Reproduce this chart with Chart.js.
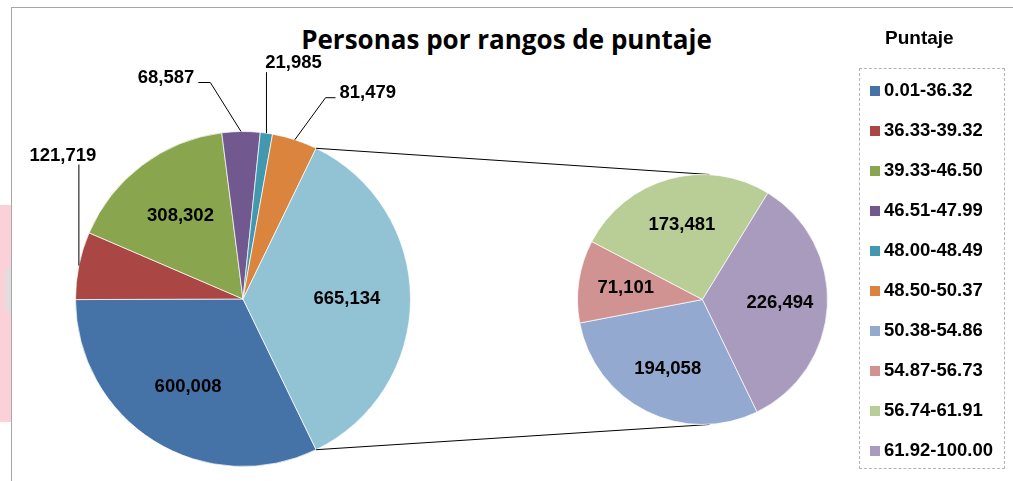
<!DOCTYPE html>
<html>
<head>
<meta charset="utf-8">
<script src="https://cdn.jsdelivr.net/npm/chart.js@4.4.1/dist/chart.umd.min.js"></script>
<style>
  body { margin: 0; background: #fff; width: 1013px; height: 481px; overflow: hidden; position: relative; font-family: "Liberation Sans", Arial, sans-serif; }
  #frame { position: absolute; left: 11px; top: 7px; width: 1100px; height: 600px; border-top: 1px solid #a6a6a6; border-left: 1px solid #a6a6a6; }
  #wm { position: absolute; left: 0; top: 205px; width: 11px; height: 217px; background: #fcd0d8; }
  #wm div { position: absolute; left: 5px; top: 62px; width: 6px; height: 46px; background: #e4dcde; border-radius: 6px 0 0 6px; }
  canvas { position: absolute; left: 0; top: 0; }
  #title { position: absolute; left: 0; top: 22px; width: 1013px; text-align: center; font: bold 26px "Open Sans", sans-serif; color: #000; line-height: 34px; }
  #legendTitle { position: absolute; left: 885px; top: 28px; font: bold 19px "Liberation Sans", Arial, sans-serif; line-height: 20px; }
  #legend { position: absolute; left: 859px; top: 68px; width: 146px; height: 401px; border: 1px dashed #b4b4b4; box-sizing: border-box; }
  .row { position: absolute; left: 10px; height: 20px; line-height: 20px; font: bold 18.5px "Liberation Sans", Arial, sans-serif; white-space: nowrap; }
  .row span { display: inline-block; width: 10px; height: 10px; margin-right: 4px; vertical-align: 0px; }
</style>
</head>
<body>
<div id="wm"><div></div></div>
<div id="frame"></div>
<div id="title">Personas por rangos de puntaje</div>
<canvas id="mainPie" width="1013" height="481"></canvas>
<canvas id="subPie" width="1013" height="481"></canvas>
<div id="legendTitle">Puntaje</div>
<div id="legend"></div>
<script>
// main pie: six score ranges plus the grouped slice that is broken out on the right
const mainLabels = ['0.01-36.32', '36.33-39.32', '39.33-46.50', '46.51-47.99', '48.00-48.49', '48.50-50.37', 'Otros'];
const mainValues = [600008, 121719, 308302, 68587, 21985, 81479, 665134];
// secondary pie
const subLabels = ['50.38-54.86', '54.87-56.73', '56.74-61.91', '61.92-100.00'];
const subValues = [194058, 71101, 173481, 226494];

const mainColors = ['#4572A7', '#AA4643', '#89A54E', '#71588F', '#4198AF', '#DB843D', '#92C3D5'];
const subColors = ['#93A9CF', '#D19392', '#B9CD96', '#A99BBD'];

const labelFont = 'bold 18.5px "Liberation Sans", Arial, sans-serif';

// label offsets (from the slice edge) for the thin slices that get a leader line
const callouts = { 1: [-16, -110], 3: [-75, -54], 4: [27, -70], 5: [73, -47] };

// the grouped slice is centred on 3 o'clock, as in a pie-of-pie
const mainTotal = mainValues.reduce((a, b) => a + b, 0);
const otherDeg = mainValues[mainValues.length - 1] / mainTotal * 360;
const startRotation = 90 + otherDeg / 2;

function fmt(v) { return v.toLocaleString('en-US'); }

const sliceLabels = {
  id: 'sliceLabels',
  afterDatasetsDraw(chart, args, opts) {
    const ctx = chart.ctx;
    const meta = chart.getDatasetMeta(0);
    const values = chart.data.datasets[0].data;
    ctx.save();
    ctx.font = labelFont;
    ctx.fillStyle = '#000';
    ctx.strokeStyle = '#000';
    ctx.lineWidth = 1;
    ctx.textAlign = 'center';
    ctx.textBaseline = 'middle';
    meta.data.forEach((arc, i) => {
      const p = arc.getProps(['x', 'y', 'startAngle', 'endAngle', 'outerRadius'], true);
      const mid = (p.startAngle + p.endAngle) / 2;
      const text = fmt(values[i]);
      const shift = (opts.callouts || {})[i];
      if (shift) {
        const ex = p.x + p.outerRadius * Math.cos(mid);
        const ey = p.y + p.outerRadius * Math.sin(mid);
        const lx = ex + shift[0], ly = ey + shift[1];
        const w = ctx.measureText(text).width, h = 14;
        const left = lx - w / 2, right = lx + w / 2;
        ctx.beginPath();
        ctx.moveTo(ex, ey);
        if (ex > right + 2) {
          ctx.lineTo(right + 16, ly + 5);
          ctx.lineTo(right + 4, ly + 5);
        } else if (ex < left - 2) {
          ctx.lineTo(left - 14, ly + 5);
          ctx.lineTo(left - 4, ly + 5);
        } else {
          ctx.lineTo(ex, ly + h / 2 + 2);
        }
        ctx.stroke();
        ctx.fillText(text, lx, ly);
      } else {
        const rr = p.outerRadius * 0.62;
        ctx.fillText(text, p.x + rr * Math.cos(mid), p.y + rr * Math.sin(mid));
      }
    });
    ctx.restore();
  }
};

const mainChart = new Chart(document.getElementById('mainPie'), {
  type: 'pie',
  data: {
    labels: mainLabels,
    datasets: [{ data: mainValues, backgroundColor: mainColors, borderColor: 'rgba(255,255,255,0.7)', borderWidth: 1 }]
  },
  options: {
    responsive: false,
    animation: false,
    rotation: startRotation,
    layout: { padding: { left: 75, right: 602, top: 131, bottom: 14 } },
    plugins: { legend: { display: false }, tooltip: { enabled: false }, sliceLabels: { callouts: callouts } }
  },
  plugins: [sliceLabels]
});

// lines joining the grouped slice to the secondary pie
const connectors = {
  id: 'connectors',
  beforeDatasetsDraw(chart) {
    const arcs = mainChart.getDatasetMeta(0).data;
    const other = arcs[arcs.length - 1].getProps(['x', 'y', 'startAngle', 'endAngle', 'outerRadius'], true);
    const sub = chart.getDatasetMeta(0).data[0].getProps(['x', 'y', 'outerRadius'], true);
    const ctx = chart.ctx;
    ctx.save();
    ctx.strokeStyle = '#000';
    ctx.lineWidth = 1;
    ctx.beginPath();
    ctx.moveTo(other.x + other.outerRadius * Math.cos(other.startAngle), other.y + other.outerRadius * Math.sin(other.startAngle));
    ctx.lineTo(sub.x + 7, sub.y - sub.outerRadius);
    ctx.moveTo(other.x + other.outerRadius * Math.cos(other.endAngle), other.y + other.outerRadius * Math.sin(other.endAngle));
    ctx.lineTo(sub.x + 7, sub.y + sub.outerRadius);
    ctx.stroke();
    ctx.restore();
  }
};

new Chart(document.getElementById('subPie'), {
  type: 'pie',
  data: {
    labels: subLabels,
    datasets: [{ data: subValues, backgroundColor: subColors, borderColor: 'rgba(255,255,255,0.7)', borderWidth: 1 }]
  },
  options: {
    responsive: false,
    animation: false,
    rotation: startRotation,
    layout: { padding: { left: 577, right: 185, top: 174, bottom: 56 } },
    plugins: { legend: { display: false }, tooltip: { enabled: false } }
  },
  plugins: [connectors, sliceLabels]
});

// legend: the six plain ranges of the main pie, then the four broken-out ones
const legendBox = document.getElementById('legend');
const legendLabels = mainLabels.slice(0, 6).concat(subLabels);
const legendColors = mainColors.slice(0, 6).concat(subColors);
legendLabels.forEach((lab, i) => {
  const row = document.createElement('div');
  row.className = 'row';
  row.style.top = (10 + i * 40) + 'px';
  row.innerHTML = '<span style="background:' + legendColors[i] + '"></span>' + lab;
  legendBox.appendChild(row);
});
</script>
</body>
</html>
